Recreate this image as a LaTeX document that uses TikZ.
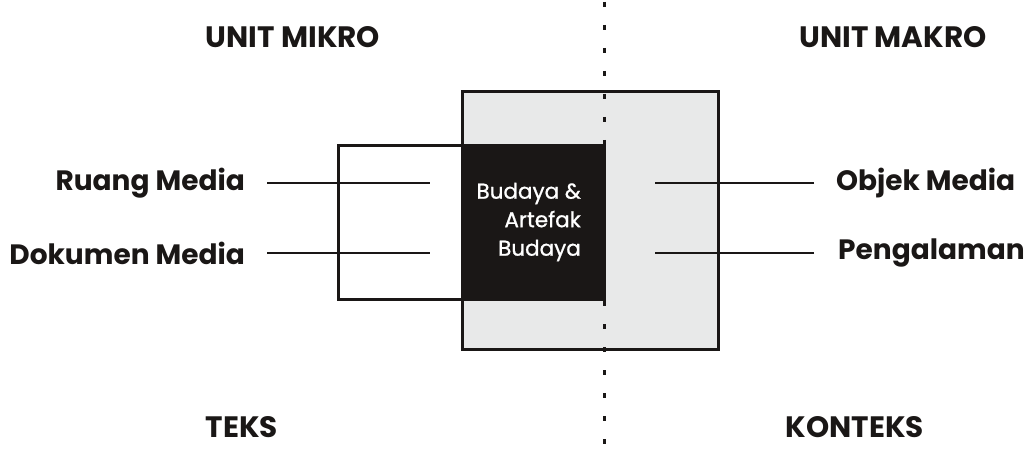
\documentclass[tikz,border=0pt]{standalone}
\usepackage{fontspec}
\setmainfont{Poppins}
\newfontfamily\centrefont[FakeBold=1]{Poppins}
\definecolor{boxgray}{HTML}{E8E9E9}
\definecolor{inkblack}{HTML}{1A1716}
\begin{document}
\begin{tikzpicture}[x=1pt,y=-1pt,
  heading/.style={font=\fontsize{29.5}{34}\selectfont\bfseries, text=inkblack, inner sep=0pt},
  label/.style={font=\fontsize{28}{32}\selectfont\bfseries, text=inkblack, inner sep=0pt},
  boxline/.style={line width=3pt, draw=inkblack},
  conn/.style={line width=2.4pt, draw=inkblack}]
\useasboundingbox (0,0) rectangle (1025,449);
% boxes
\path[boxline, fill=boxgray] (462,92) rectangle (718,349);
\path[boxline, fill=white] (338,146) rectangle (462,299);
\path[boxline, fill=inkblack] (462,146) rectangle (604,299);
% dotted divider
\coordinate (dtop) at (604,2);
\coordinate (dbot) at (604,449);
\draw[line width=3pt, inkblack, dash pattern=on 5pt off 18pt] (dtop) -- (dbot);
% headings
\node[heading] (mikro) at (293,37) {UNIT MIKRO};
\node[heading] (makro) at (893,37) {UNIT MAKRO};
\node[heading] (teks) at (242,427) {TEKS};
\node[heading] (konteks) at (855,427) {KONTEKS};
% labels
\node[label, anchor=east] (ruang) at (245,183) {Ruang Media};
\node[label, anchor=east] (dokumen) at (245,253) {Dokumen Media};
\node[label, anchor=west] (objek) at (836,183) {Objek Media};
\node[label, anchor=west] (pengalaman) at (838,253) {Pengalaman};
% centre text
\node[text=white, align=right, font=\centrefont\fontsize{21.5}{28.5}\selectfont, inner sep=0pt, anchor=east] (budaya) at (581,222) {Budaya \&\\Artefak\\Budaya};
% connectors
\coordinate (rL) at (430,183);
\coordinate (dL) at (430,253);
\coordinate (oR) at (655,183);
\coordinate (pR) at (655,253);
\draw[conn] (ruang.east) ++(22,0) -- (rL);
\draw[conn] (dokumen.east) ++(22,0) -- (dL);
\draw[conn] (objek.west) ++(-22,0) -- (oR);
\draw[conn] (pengalaman.west) ++(-24,0) -- (pR);
\end{tikzpicture}
\end{document}
